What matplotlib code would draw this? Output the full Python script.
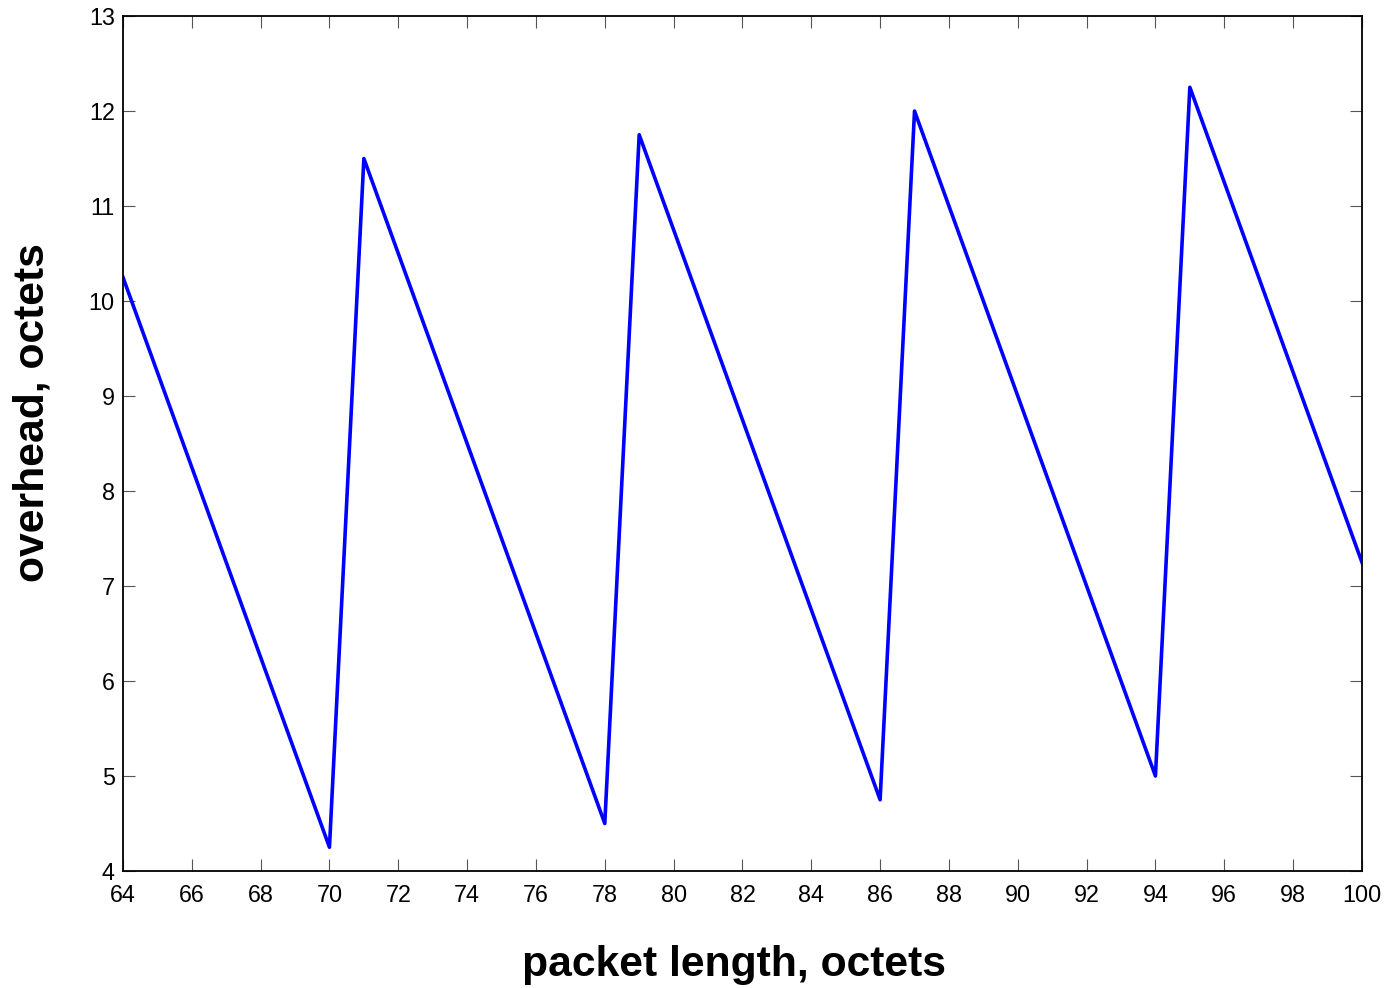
import matplotlib
matplotlib.use("Agg")
import matplotlib.pyplot as plt

# packet length (octets) vs overhead (octets)
packet_length = list(range(64, 101))
overhead = [
    10.25, 9.25, 8.25, 7.25, 6.25, 5.25, 4.25,
    11.5, 10.5, 9.5, 8.5, 7.5, 6.5, 5.5, 4.5,
    11.75, 10.75, 9.75, 8.75, 7.75, 6.75, 5.75, 4.75,
    12.0, 11.0, 10.0, 9.0, 8.0, 7.0, 6.0, 5.0,
    12.25, 11.25, 10.25, 9.25, 8.25, 7.25,
]
x_ticks = list(range(64, 101, 2))
y_ticks = list(range(4, 14))

plt.rcParams["font.family"] = ["Liberation Sans", "DejaVu Sans"]

fig = plt.figure(figsize=(13.91, 9.88), dpi=100)
ax = fig.add_axes([0.0884, 0.1184, 0.8907, 0.8654])

ax.plot(packet_length, overhead, color="#0000ff", linewidth=2.6)

ax.set_xlim(64, 100)
ax.set_ylim(4, 13)
ax.set_xticks(x_ticks)
ax.set_yticks(y_ticks)
ax.tick_params(axis="both", direction="in", length=8.5, width=0.8, color="#555555",
               labelsize=16.8, top=True, right=True, pad=6)
ax.tick_params(axis="x", pad=9)
for s in ax.spines.values():
    s.set_linewidth(1.3)

ax.set_xlabel("packet length, octets", fontsize=30.7, fontweight="bold")
ax.set_ylabel("overhead, octets", fontsize=30.7, fontweight="bold")
# label positions in axes coordinates
ax.xaxis.set_label_coords(0.493, -0.110, transform=ax.transAxes)
ax.yaxis.set_label_coords(-0.073, 0.536, transform=ax.transAxes)
ax.xaxis.label.set_va("center")
ax.yaxis.label.set_va("center")

fig.savefig("out.png", dpi=100)
